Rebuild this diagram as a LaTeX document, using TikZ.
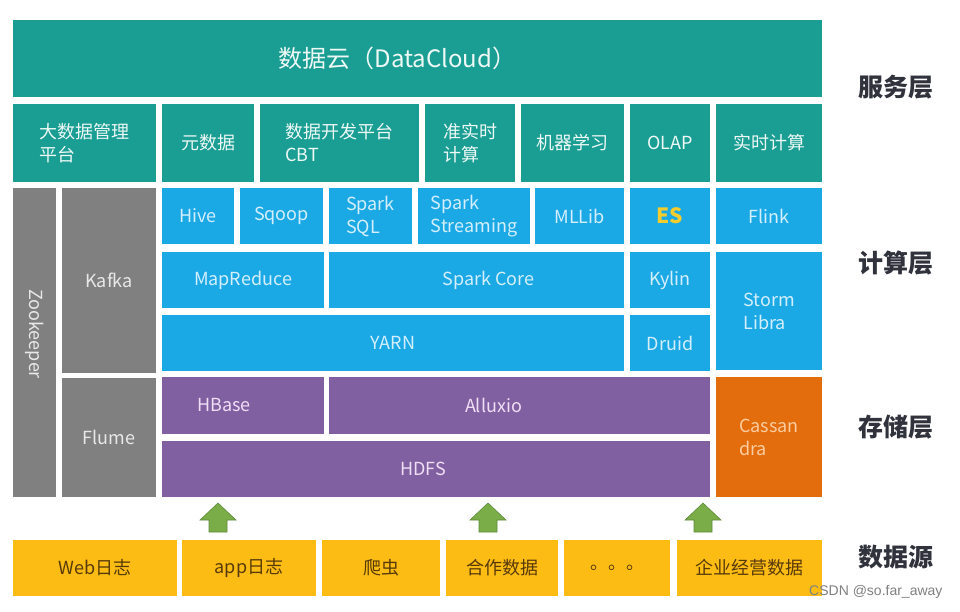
\documentclass[tikz,border=0pt]{standalone}
\usepackage{fontspec}
\setmainfont{Noto Sans CJK SC}
\newfontfamily\markfont{Liberation Sans}
\definecolor{svcteal}{RGB}{26,158,148}
\definecolor{svctext}{RGB}{238,248,245}
\definecolor{cmpblue}{RGB}{27,169,230}
\definecolor{cmptext}{RGB}{212,238,252}
\definecolor{stopurple}{RGB}{128,96,160}
\definecolor{stotext}{RGB}{240,222,245}
\definecolor{colgray}{RGB}{128,128,128}
\definecolor{coltext}{RGB}{232,232,232}
\definecolor{castorange}{RGB}{227,108,12}
\definecolor{casttext}{RGB}{252,205,160}
\definecolor{srcyellow}{RGB}{252,188,20}
\definecolor{srctext}{RGB}{88,58,10}
\definecolor{estext}{RGB}{242,205,45}
\definecolor{arrowgreen}{RGB}{122,172,72}
\definecolor{arrowedge}{RGB}{96,140,60}
\definecolor{layertext}{RGB}{48,50,60}
\begin{document}
\begin{tikzpicture}[
    x = 1pt, y = -1pt,
    box/.style = {
        draw = none,
        inner sep = 0pt,
        outer sep = 0pt,
        align = center,
        font = \fontsize{18}{23}\selectfont
    },
    sz/.style 2 args = {minimum width = #1, minimum height = #2},
    svc/.style = {box, fill = svcteal, text = svctext},
    cmp/.style = {box, fill = cmpblue, text = cmptext},
    sto/.style = {box, fill = stopurple, text = stotext},
    col/.style = {box, fill = colgray, text = coltext},
    src/.style = {box, fill = srcyellow, text = srctext},
    layer/.style = {font = \fontsize{25}{28}\selectfont\bfseries, text = layertext},
    uparrow/.style = {fill = arrowgreen, draw = arrowedge, line width = 0.6pt}
]
\useasboundingbox[fill = white] (0,0) rectangle (960,611);

\node[svc, sz = {809}{77}, font = \fontsize{24}{26}\selectfont] (cloud) at (417.5,58.5) {数据云（DataCloud）\hspace{40pt}};

\node[svc, sz = {143}{78}, align = left] (mgmt) at (84.5,143) {大数据管理\hspace{12pt}\\平台};
\node[svc, sz = {92}{78}] (meta) at (208,143) {元数据};
\node[svc, sz = {159}{78}, align = left] (cbt) at (339.5,143) {数据开发平台\\CBT};
\node[svc, sz = {90}{78}, align = left] (nrt) at (470,143) {准实时\\计算};
\node[svc, sz = {103}{78}] (ml) at (572.5,143) {机器学习};
\node[svc, sz = {80}{78}] (olap) at (670,143) {OLAP};
\node[svc, sz = {106}{78}] (rt) at (769,143) {实时计算};

\node[col, sz = {43}{309}] (zk) at (34.5,342.5) {};
\node[text = coltext, rotate = -90, font = \fontsize{18}{20}\selectfont] (zktext) at (34.5,334) {Zookeeper};
\node[col, sz = {94}{185}] (kafka) at (109,280.5) {Kafka};
\node[col, sz = {94}{119}] (flume) at (109,437.5) {Flume};

\node[cmp, sz = {72}{56}] (hive) at (198,216) {Hive};
\node[cmp, sz = {83}{56}] (sqoop) at (281.5,216) {Sqoop};
\node[cmp, sz = {83}{56}, align = left] (sparksql) at (370.5,216) {Spark\\SQL};
\node[cmp, sz = {112}{56}, align = left] (streaming) at (474,216) {Spark\\Streaming};
\node[cmp, sz = {89}{56}] (mllib) at (579.5,216) {MLLib};
\node[cmp, sz = {80}{56}, text = estext, font = \fontsize{21}{23}\selectfont\bfseries] (es) at (670,216) {ES};
\node[cmp, sz = {106}{56}] (flink) at (769,216) {Flink};

\node[cmp, sz = {162}{56}] (mapreduce) at (243,280) {MapReduce};
\node[cmp, sz = {295}{56}] (sparkcore) at (476.5,280) {\hspace{24pt}Spark Core};
\node[cmp, sz = {80}{56}] (kylin) at (670,280) {Kylin};
\node[cmp, sz = {106}{118}, align = left] (storm) at (769,311) {Storm\\Libra};
\node[cmp, sz = {462}{56}] (yarn) at (393,343) {YARN};
\node[cmp, sz = {80}{56}] (druid) at (670,343) {Druid};

\node[sto, sz = {162}{57}] (hbase) at (243,405.5) {HBase\hspace{38pt}};
\node[sto, sz = {381}{57}] (alluxio) at (519.5,405.5) {Alluxio\hspace{52pt}};
\node[sto, sz = {548}{56}] (hdfs) at (436,469) {HDFS\hspace{26pt}};
\node[box, fill = castorange, text = casttext, sz = {106}{120}, align = left] (cassandra) at (769,437) {Cassan\\dra};

\foreach \ax in {218, 488, 703}
    \filldraw[uparrow] (\ax,503) -- ++(18,17) -- ++(-9,0) -- ++(0,12) -- ++(-18,0) -- ++(0,-12) -- ++(-9,0) -- cycle;

\node[src, sz = {164}{56}] (web) at (95,568) {Web日志};
\node[src, sz = {134}{56}] (app) at (249,568) {app日志};
\node[src, sz = {118}{56}] (crawler) at (381,568) {爬虫};
\node[src, sz = {112}{56}] (partner) at (502,568) {合作数据};
\node[src, sz = {106}{56}] (more) at (617,568) {。。。};
\node[src, sz = {145}{56}] (biz) at (749.5,568) {企业经营数据};

\node[layer] (svclayer) at (896,87) {服务层};
\node[layer] (cmplayer) at (896,263) {计算层};
\node[layer] (stolayer) at (896,427) {存储层};
\node[layer] (srclayer) at (896,557) {数据源};

\node[text = gray, font = \markfont\fontsize{14}{16}\selectfont, anchor = east] (mark) at (946,592) {CSDN @so.far\_away};
\end{tikzpicture}
\end{document}
